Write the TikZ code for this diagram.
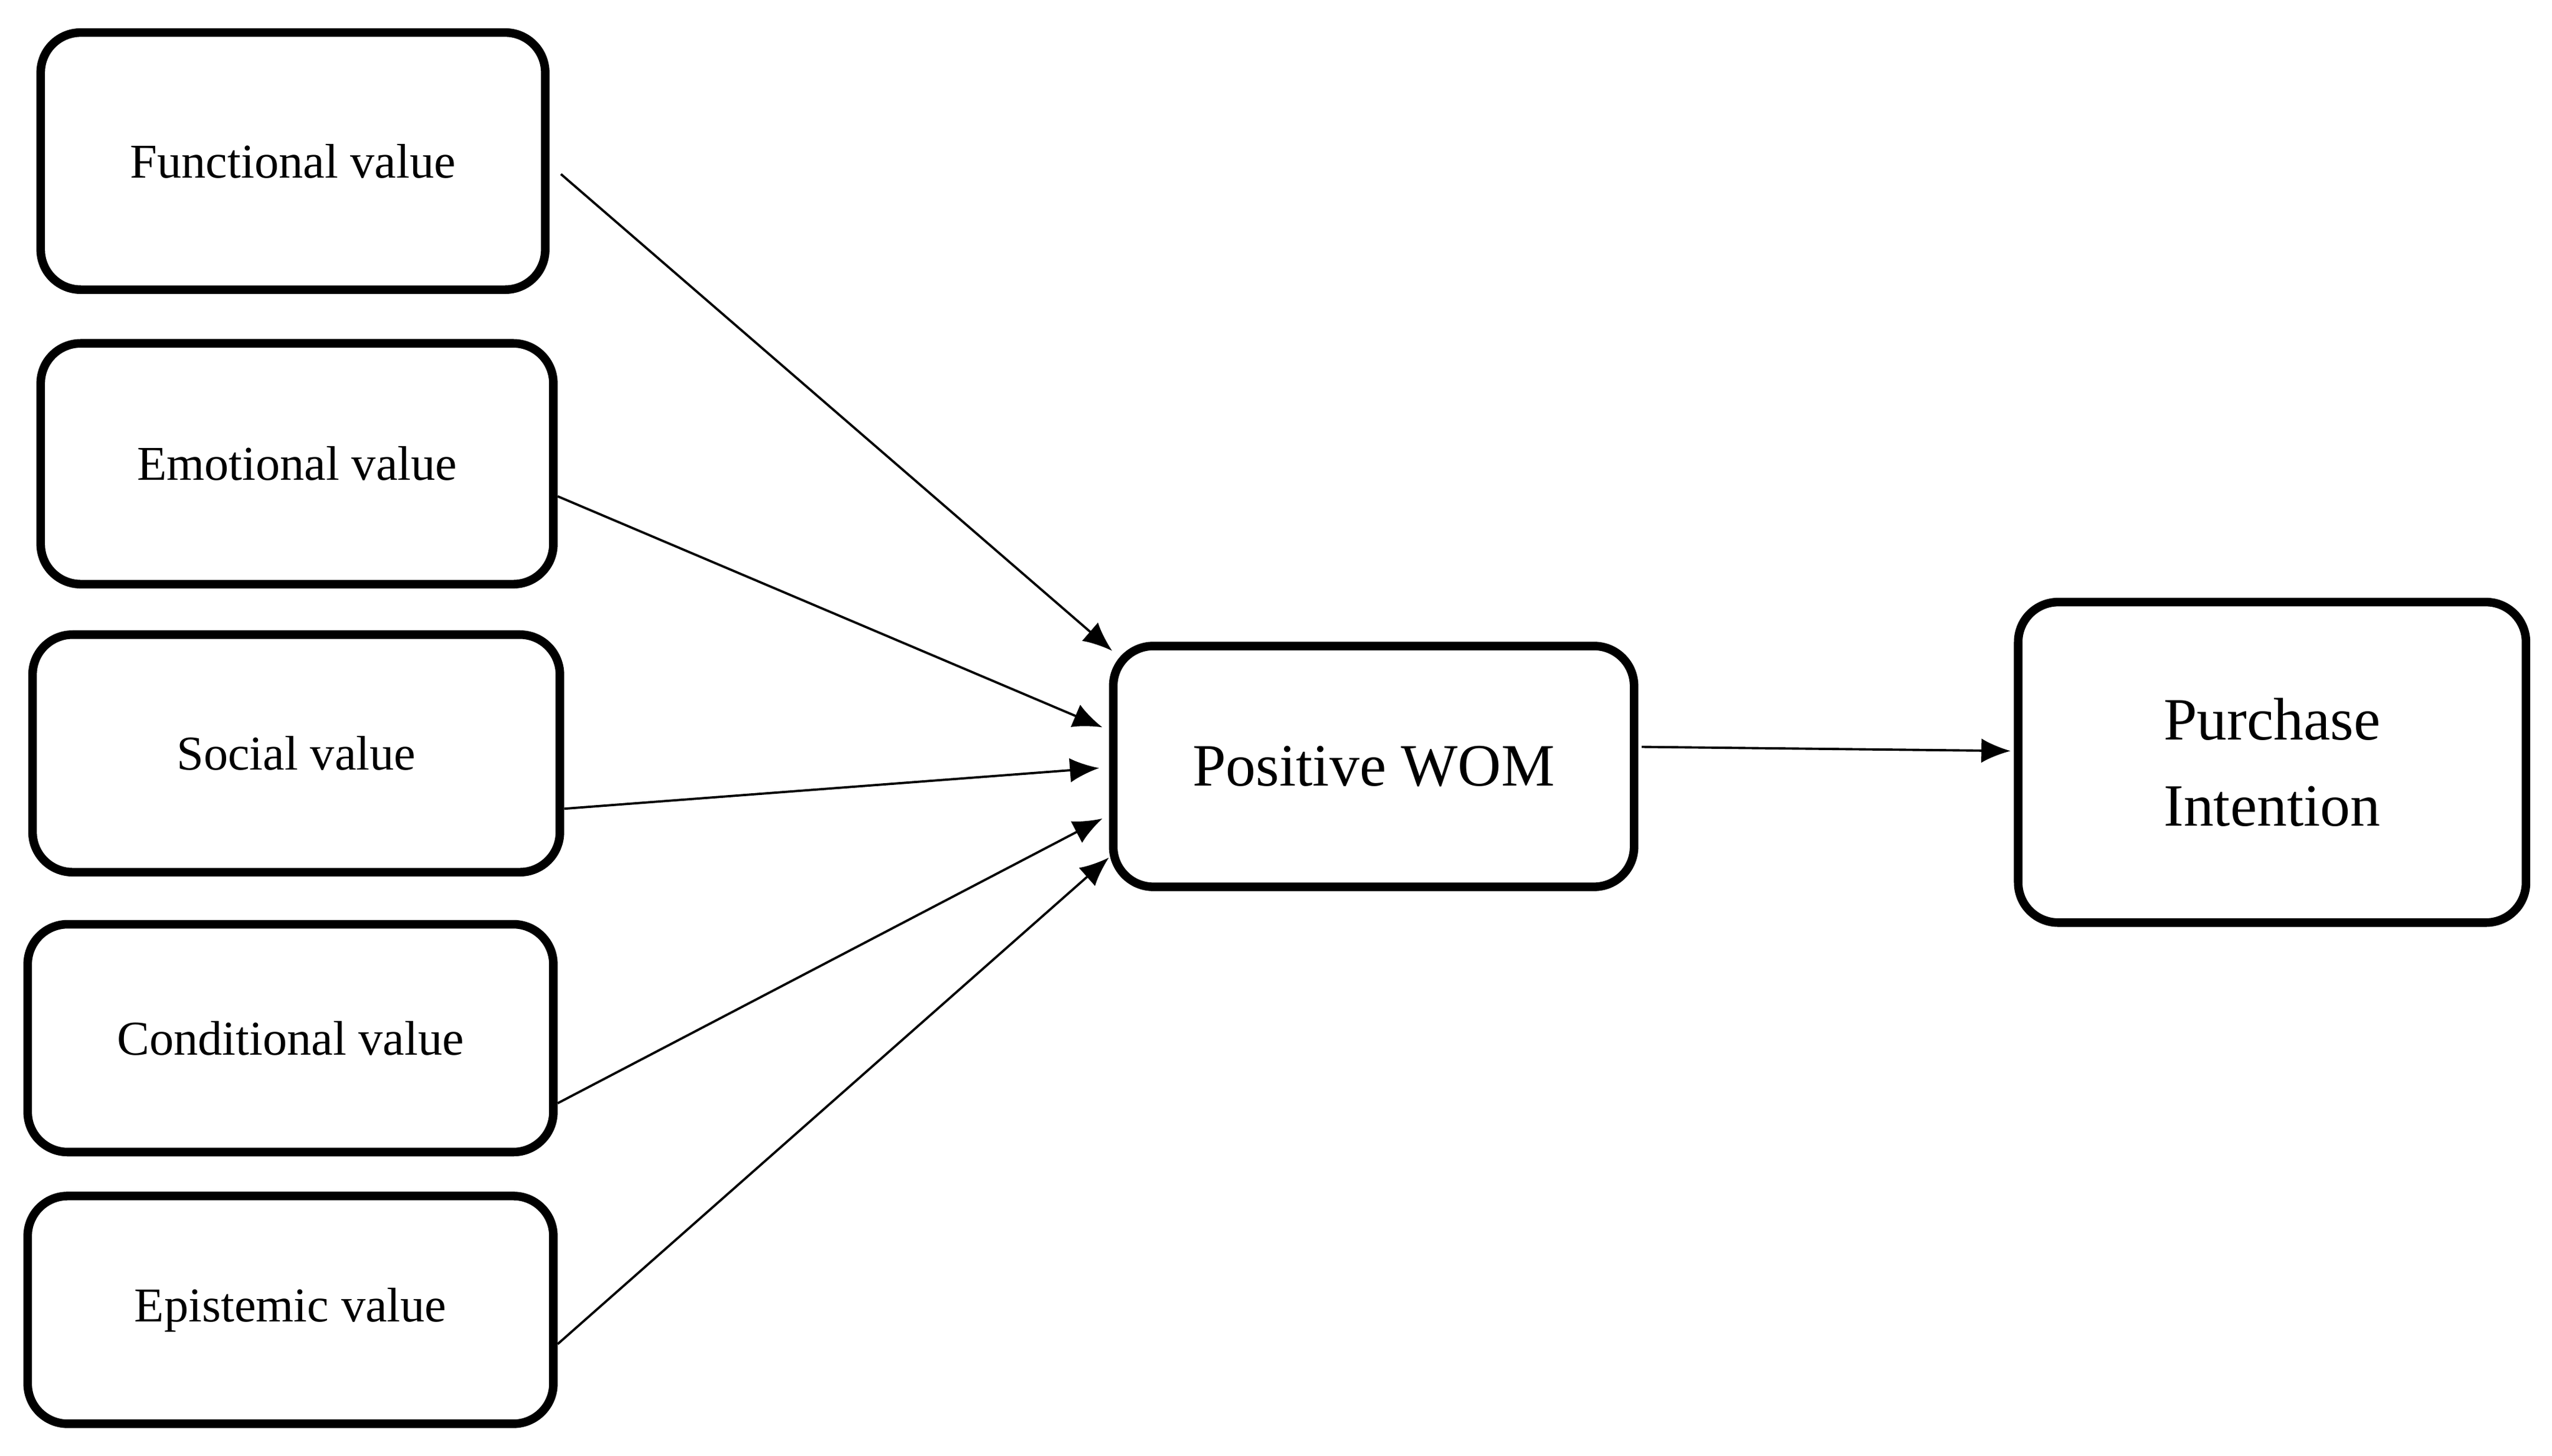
\documentclass[tikz,border=0pt]{standalone}
\usepackage{fontspec}
\setmainfont{Liberation Serif}
\usetikzlibrary{arrows.meta}

\begin{document}
\begin{tikzpicture}[box/.style={draw, rectangle, rounded corners=7pt, line width=1.5pt, align=center, font=\fontsize{8.5}{10}\selectfont},
  big/.style={box, font=\fontsize{10.5}{15}\selectfont}, n/.style={-{Latex[length=0.18cm, width=0.15cm]}, line width=0.4pt}]
            \useasboundingbox (0,0) rectangle (15.68,-8.945);
            % nodes
            \node[box, minimum width=3.10cm, minimum height=1.58cm] (fv) at (1.80,-0.99) {Functional value};
            \node[box, minimum width=3.15cm, minimum height=1.48cm] (ev) at (1.825,-2.85) {Emotional value};
            \node[box, minimum width=3.24cm, minimum height=1.46cm] (sv) at (1.82,-4.63) {Social value};
            \node[box, minimum width=3.23cm, minimum height=1.40cm] (cv) at (1.785,-6.38) {Conditional value};
            \node[box, minimum width=3.23cm, minimum height=1.40cm] (epv) at (1.785,-8.05) {Epistemic value};

            \node[big, minimum width=3.20cm, minimum height=1.48cm] (wom) at (8.44,-4.71) {Positive WOM};
            \node[big, minimum width=3.12cm, minimum height=1.97cm] (pi) at (13.96,-4.685) {Purchase\\Intention};
            % edges
            \draw [n] ([xshift=0.07cm, yshift=-0.08cm]fv.east) -- ([xshift=0.02cm, yshift=0.71cm]wom.west);
            \draw [n] ([yshift=-0.20cm]ev.east) -- ([xshift=-0.04cm, yshift=0.24cm]wom.west);
            \draw [n] ([yshift=-0.34cm]sv.east) -- ([xshift=-0.06cm, yshift=-0.01cm]wom.west);
            \draw [n] ([yshift=-0.40cm]cv.east) -- ([xshift=-0.04cm, yshift=-0.32cm]wom.west);
            \draw [n] ([yshift=-0.21cm]epv.east) -- ([yshift=-0.56cm]wom.west);

            \draw [n] ([xshift=0.02cm, yshift=0.12cm]wom.east) -- ([xshift=-0.02cm, yshift=0.07cm]pi.west);
        \end{tikzpicture}
\end{document}
